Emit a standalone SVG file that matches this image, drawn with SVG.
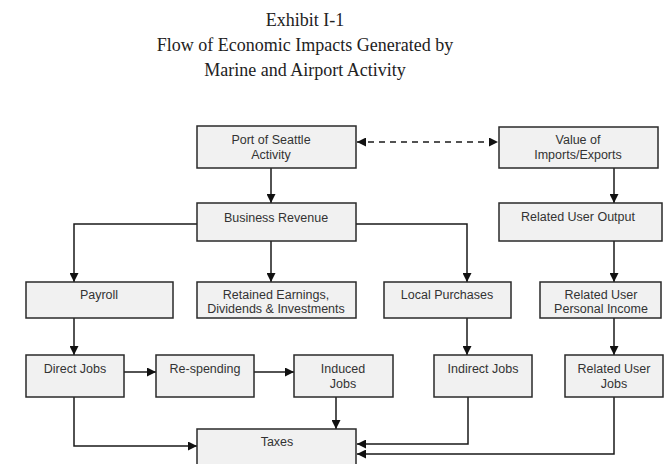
<svg xmlns="http://www.w3.org/2000/svg" width="666" height="464" viewBox="0 0 666 464">
<defs>
<style>
.box{fill:#f1f1f1;stroke:#2a2a2a;stroke-width:1.5}
.t{font-family:"Liberation Sans",Arial,sans-serif;font-size:12.5px;fill:#333;text-anchor:middle}
.title{font-family:"Liberation Serif","Times New Roman",serif;font-size:18px;fill:#222;text-anchor:middle}
.c{fill:none;stroke:#1a1a1a;stroke-width:1.5}
.d{stroke-dasharray:6,5}
</style>
<marker id="ah" viewBox="0 0 10 10" refX="10" refY="5" markerWidth="9" markerHeight="9" markerUnits="userSpaceOnUse" orient="auto-start-reverse">
<path d="M0,0 L10,5 L0,10 z" fill="#111"/>
</marker>
</defs>
<rect width="666" height="464" fill="#fff"/>
<g id="title">
<text class="title" x="305" y="26">Exhibit I-1</text>
<text class="title" x="305" y="51">Flow of Economic Impacts Generated by</text>
<text class="title" x="305" y="76">Marine and Airport Activity</text>
</g>
<g id="connectors">
<path class="c" d="M271,168 V203" marker-end="url(#ah)"/>
<path class="c d" d="M357,142 H498" marker-start="url(#ah)" marker-end="url(#ah)"/>
<path class="c" d="M614,168 V203" marker-end="url(#ah)"/>
<path class="c" d="M197,224 H74 V282" marker-end="url(#ah)"/>
<path class="c" d="M271,241 V282" marker-end="url(#ah)"/>
<path class="c" d="M356,224 H467 V282" marker-end="url(#ah)"/>
<path class="c" d="M614,241 V282" marker-end="url(#ah)"/>
<path class="c" d="M74,318 V355" marker-end="url(#ah)"/>
<path class="c" d="M467,318 V355" marker-end="url(#ah)"/>
<path class="c" d="M614,318 V355" marker-end="url(#ah)"/>
<path class="c" d="M124,372 H156" marker-end="url(#ah)"/>
<path class="c" d="M254,372 H294" marker-end="url(#ah)"/>
<path class="c" d="M74,397 V446 H197" marker-end="url(#ah)"/>
<path class="c" d="M336,397 V429" marker-end="url(#ah)"/>
<path class="c" d="M468,397 V444 H357" marker-end="url(#ah)"/>
<path class="c" d="M614,397 V454 H357" marker-end="url(#ah)"/>
</g>
<g id="port">
<rect class="box" x="197" y="126" width="159" height="42"/>
<text class="t" x="271" y="144">Port of Seattle</text>
<text class="t" x="271" y="159">Activity</text>
</g>
<g id="value">
<rect class="box" x="499" y="127" width="159" height="41"/>
<text class="t" x="578" y="144">Value of</text>
<text class="t" x="578" y="159">Imports/Exports</text>
</g>
<g id="business-revenue">
<rect class="box" x="197" y="203" width="159" height="38"/>
<text class="t" x="276" y="222">Business Revenue</text>
</g>
<g id="related-user-output">
<rect class="box" x="499" y="203" width="163" height="38"/>
<text class="t" x="578" y="221">Related User Output</text>
</g>
<g id="payroll">
<rect class="box" x="26" y="282" width="147" height="36"/>
<text class="t" x="99" y="299">Payroll</text>
</g>
<g id="retained">
<rect class="box" x="197" y="282" width="159" height="36"/>
<text class="t" x="276" y="299">Retained Earnings,</text>
<text class="t" x="276" y="313">Dividends &amp; Investments</text>
</g>
<g id="local-purchases">
<rect class="box" x="384" y="282" width="127" height="36"/>
<text class="t" x="447" y="299">Local Purchases</text>
</g>
<g id="related-user-income">
<rect class="box" x="540" y="282" width="121" height="36"/>
<text class="t" x="601" y="299">Related User</text>
<text class="t" x="601" y="313">Personal Income</text>
</g>
<g id="direct-jobs">
<rect class="box" x="26" y="355" width="98" height="42"/>
<text class="t" x="75" y="373">Direct Jobs</text>
</g>
<g id="re-spending">
<rect class="box" x="156" y="355" width="98" height="42"/>
<text class="t" x="205" y="373">Re-spending</text>
</g>
<g id="induced-jobs">
<rect class="box" x="294" y="355" width="99" height="42"/>
<text class="t" x="343" y="373">Induced</text>
<text class="t" x="343" y="388">Jobs</text>
</g>
<g id="indirect-jobs">
<rect class="box" x="434" y="355" width="98" height="42"/>
<text class="t" x="483" y="373">Indirect Jobs</text>
</g>
<g id="related-user-jobs">
<rect class="box" x="565" y="355" width="98" height="42"/>
<text class="t" x="614" y="373">Related User</text>
<text class="t" x="614" y="388">Jobs</text>
</g>
<g id="taxes">
<rect class="box" x="197" y="429" width="159" height="42"/>
<text class="t" x="277" y="446">Taxes</text>
</g>
</svg>
